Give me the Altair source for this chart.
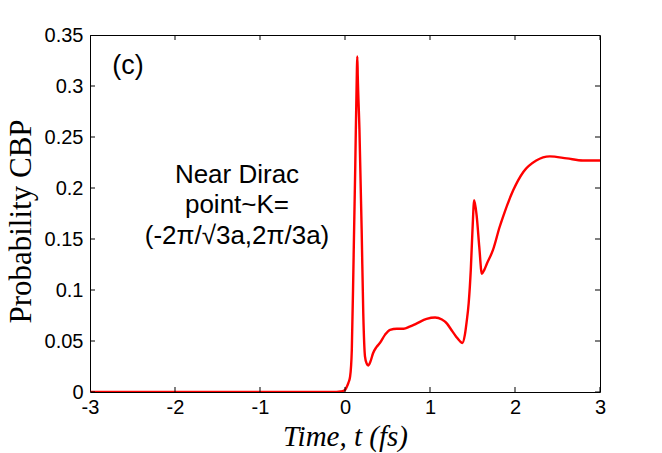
import altair as alt
import pandas as pd

t = [-3.0, -1.5, -0.1, -0.05, 0.0, 0.02, 0.04, 0.06, 0.08, 0.1, 0.12, 0.14, 0.145, 0.15, 0.17,
     0.196, 0.215, 0.235, 0.255, 0.275, 0.3, 0.33, 0.37, 0.41, 0.47, 0.53, 0.61, 0.69, 0.76,
     0.84, 0.96, 1.06, 1.14, 1.2, 1.25, 1.31, 1.35, 1.38, 1.41, 1.43, 1.455, 1.48, 1.5, 1.52,
     1.55, 1.58, 1.61, 1.64, 1.67, 1.74, 1.82, 1.86, 1.98, 2.1, 2.25, 2.41, 2.61, 2.8, 3.0]
p = [0.0, 0.0, 0.0, 0.0005, 0.002, 0.005, 0.009, 0.015, 0.041, 0.126, 0.218, 0.316, 0.329, 0.31, 0.257,
     0.159, 0.077, 0.035, 0.028, 0.026, 0.03, 0.038, 0.044, 0.048, 0.056, 0.061, 0.062, 0.062, 0.064,
     0.067, 0.0716, 0.073, 0.071, 0.067, 0.061, 0.054, 0.05, 0.048, 0.056, 0.068, 0.087, 0.12, 0.159, 0.188,
     0.172, 0.142, 0.116, 0.12, 0.126, 0.139, 0.162, 0.172, 0.198, 0.216, 0.227, 0.231, 0.229, 0.227, 0.227]

x_ticks = [-3, -2, -1, 0, 1, 2, 3]
y_ticks = [0, 0.05, 0.1, 0.15, 0.2, 0.25, 0.3, 0.35]

panel_label = "(c)"
note_lines = ["Near Dirac", "point~K=", "(-2\u03c0/\u221a3a,2\u03c0/3a)"]

df = pd.DataFrame({"t": t, "p": p})
xt_df = pd.DataFrame({"v": x_ticks})
yt_df = pd.DataFrame({"v": y_ticks})

W, H = 510, 357
X_DOM = [-3, 3]
Y_DOM = [0, 0.35]
xs = alt.Scale(domain=X_DOM, nice=False, zero=False)
ys = alt.Scale(domain=Y_DOM, nice=False, zero=False)

x_axis = alt.Axis(values=x_ticks, title="Time, t (fs)", ticks=False, grid=False,
                  domain=False, labelFont="Liberation Sans", labelFontSize=20,
                  labelColor="black", labelPadding=5, labelFlush=False,
                  labelExpr="toString(datum.value)",
                  titleFont="Liberation Serif", titleFontStyle="italic",
                  titleFontWeight="normal", titleFontSize=29, titleColor="black",
                  titlePadding=5)
y_axis = alt.Axis(values=y_ticks, title="Probability CBP", ticks=False, grid=False,
                  domain=False, labelFont="Liberation Sans", labelFontSize=20,
                  labelColor="black", labelPadding=7, labelFlush=False,
                  labelExpr="format(datum.value, '.2~f')",
                  titleFont="Liberation Serif", titleFontWeight="normal",
                  titleFontSize=31, titleColor="black",
                  titleX=-53, titleY=186, titleAngle=270,
                  titleAlign="center", titleBaseline="bottom")

main = alt.Chart(df).mark_line(color="#ff0000", strokeWidth=2.4, clip=True,
                               interpolate="monotone").encode(
    x=alt.X("t:Q", scale=xs, axis=x_axis),
    y=alt.Y("p:Q", scale=ys, axis=y_axis),
)

tick_style = dict(size=10, thickness=1, color="black", clip=True, opacity=1)

tick_bottom = alt.Chart(xt_df).mark_tick(orient="vertical", **tick_style).encode(
    x=alt.X("v:Q", scale=xs, axis=x_axis), y=alt.YDatum(Y_DOM[0], axis=y_axis, scale=ys))
tick_top = alt.Chart(xt_df).mark_tick(orient="vertical", **tick_style).encode(
    x=alt.X("v:Q", scale=xs, axis=x_axis), y=alt.YDatum(Y_DOM[1], axis=y_axis, scale=ys))
tick_left = alt.Chart(yt_df).mark_tick(orient="horizontal", **tick_style).encode(
    y=alt.Y("v:Q", scale=ys, axis=y_axis), x=alt.XDatum(X_DOM[0], axis=x_axis, scale=xs))
tick_right = alt.Chart(yt_df).mark_tick(orient="horizontal", **tick_style).encode(
    y=alt.Y("v:Q", scale=ys, axis=y_axis), x=alt.XDatum(X_DOM[1], axis=x_axis, scale=xs))

lab_df = pd.DataFrame({"txt": [panel_label]})
lab = alt.Chart(lab_df).mark_text(font="Liberation Sans", fontSize=27, color="black",
                                  align="center", baseline="alphabetic").encode(
    text="txt:N", x=alt.value(38), y=alt.value(39))

note_layers = []
note_y = [147.7, 178.2, 208.7]
for line, yy in zip(note_lines, note_y):
    d = pd.DataFrame({"txt": [line]})
    note_layers.append(
        alt.Chart(d).mark_text(font="Liberation Sans", fontSize=26, color="black",
                               align="center", baseline="alphabetic").encode(
            text="txt:N", x=alt.value(147), y=alt.value(yy)))

chart = alt.layer(main, tick_bottom, tick_top, tick_left, tick_right, lab, *note_layers).properties(
    width=W, height=H,
    autosize=alt.AutoSizeParams(type="none"),
    padding={"left": 82, "top": 27, "right": 44, "bottom": 61},
    background="white",
).configure_view(stroke="black", strokeWidth=1)

chart.save("out.html", embed_options={"renderer": "svg", "actions": False})
